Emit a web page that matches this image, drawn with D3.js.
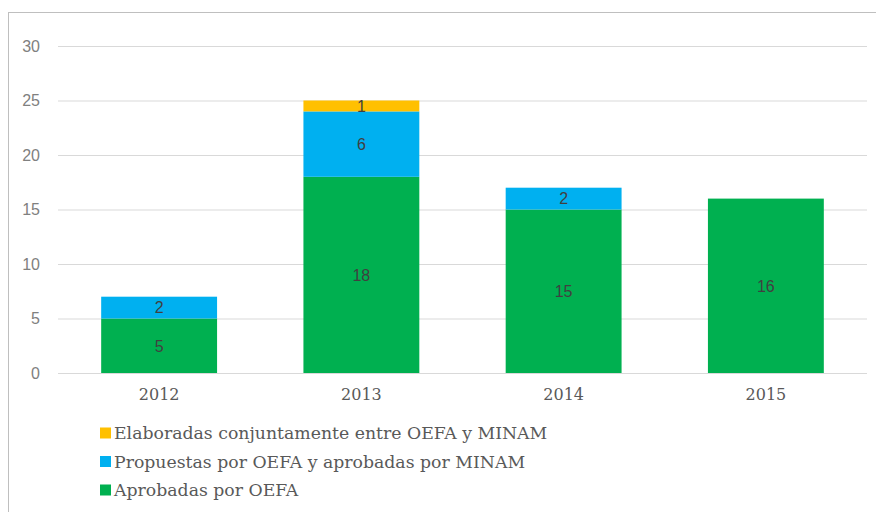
<!DOCTYPE html>
<html>
<head>
<meta charset="utf-8">
<script src="https://cdn.jsdelivr.net/npm/d3@7"></script>
<style>
  body { margin: 0; background: #fff; }
</style>
</head>
<body>
<div id="chart"></div>
<script>
var years = ["2012", "2013", "2014", "2015"];
var aprobadas = [5, 18, 15, 16];
var propuestas = [2, 6, 2, 0];
var elaboradas = [0, 1, 0, 0];
var seriesNames = [
  "Aprobadas por OEFA",
  "Propuestas por OEFA y aprobadas por MINAM",
  "Elaboradas conjuntamente entre OEFA y MINAM"
];
var seriesColors = ["#00B050", "#00B0F0", "#FFC000"];
var yTicks = [0, 5, 10, 15, 20, 25, 30];

var svgWidth = 876;
var svgHeight = 512;
var margin = { top: 46, right: 9, bottom: 139, left: 58 };
var width = svgWidth - margin.left - margin.right;
var height = svgHeight - margin.top - margin.bottom;

var svg = d3.select("#chart")
  .append("svg")
  .attr("width", svgWidth)
  .attr("height", svgHeight);

// chart border
svg.append("rect")
  .attr("x", 8.5).attr("y", 12.5)
  .attr("width", 900).attr("height", 600)
  .attr("fill", "none")
  .attr("stroke", "#bfbfbf")
  .attr("stroke-width", 1);

var chartGroup = svg.append("g")
  .attr("transform", `translate(${margin.left}, ${margin.top})`);

var rows = years.map(function(y, i) {
  return { year: y, a: aprobadas[i], p: propuestas[i], e: elaboradas[i] };
});

var stack = d3.stack().keys(["a", "p", "e"]);
var stacked = stack(rows);

var xScale = d3.scaleBand()
  .domain(years)
  .range([0, width])
  .paddingInner(0.427)
  .paddingOuter(0.2135);

var yScale = d3.scaleLinear()
  .domain([0, 30])
  .range([height, 0]);

// gridlines
chartGroup.selectAll(".grid")
  .data(yTicks)
  .enter()
  .append("line")
  .attr("x1", 0)
  .attr("x2", width)
  .attr("y1", d => yScale(d) + 0.5)
  .attr("y2", d => yScale(d) + 0.5)
  .attr("stroke", "#d9d9d9")
  .attr("stroke-width", 1);

// y axis labels
var leftAxis = d3.axisLeft(yScale).tickValues(yTicks).tickSize(0).tickPadding(18);
chartGroup.append("g")
  .call(leftAxis)
  .call(g => g.select(".domain").remove())
  .selectAll("text")
  .style("font-family", "Liberation Sans, Arial, sans-serif")
  .style("font-size", "16px")
  .attr("fill", "#808080");

// bars
var layers = chartGroup.selectAll(".layer")
  .data(stacked)
  .enter()
  .append("g")
  .attr("fill", (d, i) => seriesColors[i]);

layers.selectAll("rect")
  .data(d => d)
  .enter()
  .append("rect")
  .attr("x", d => xScale(d.data.year))
  .attr("width", xScale.bandwidth())
  .attr("y", d => yScale(d[1]))
  .attr("height", d => yScale(d[0]) - yScale(d[1]));

// data labels
layers.selectAll("text")
  .data(d => d.filter(v => v[1] - v[0] > 0))
  .enter()
  .append("text")
  .attr("x", d => xScale(d.data.year) + xScale.bandwidth() / 2)
  .attr("y", d => yScale((d[0] + d[1]) / 2))
  .attr("dy", "0.36em")
  .attr("text-anchor", "middle")
  .style("font-family", "Liberation Sans, Arial, sans-serif")
  .style("font-size", "16px")
  .attr("fill", "#404040")
  .text(d => d[1] - d[0]);

// x axis labels
var bottomAxis = d3.axisBottom(xScale).tickSize(0).tickPadding(16);
chartGroup.append("g")
  .attr("transform", `translate(0, ${height})`)
  .call(bottomAxis)
  .call(g => g.select(".domain").remove())
  .selectAll("text")
  .style("font-family", "DejaVu Serif, serif")
  .style("font-size", "16px")
  .attr("fill", "#595959");

// legend
var legendItems = [2, 1, 0];
var legend = svg.append("g")
  .attr("transform", "translate(100, 433)");

var legendRow = legend.selectAll("g")
  .data(legendItems)
  .enter()
  .append("g")
  .attr("transform", (d, i) => `translate(0, ${i * 28.5})`);

legendRow.append("rect")
  .attr("x", 0)
  .attr("y", -5.5)
  .attr("width", 11)
  .attr("height", 11)
  .attr("fill", d => seriesColors[d]);

legendRow.append("text")
  .attr("x", 14)
  .attr("dy", "0.36em")
  .style("font-family", "DejaVu Serif, serif")
  .style("font-size", "17.3px")
  .attr("fill", "#595959")
  .text(d => seriesNames[d]);
</script>
</body>
</html>
